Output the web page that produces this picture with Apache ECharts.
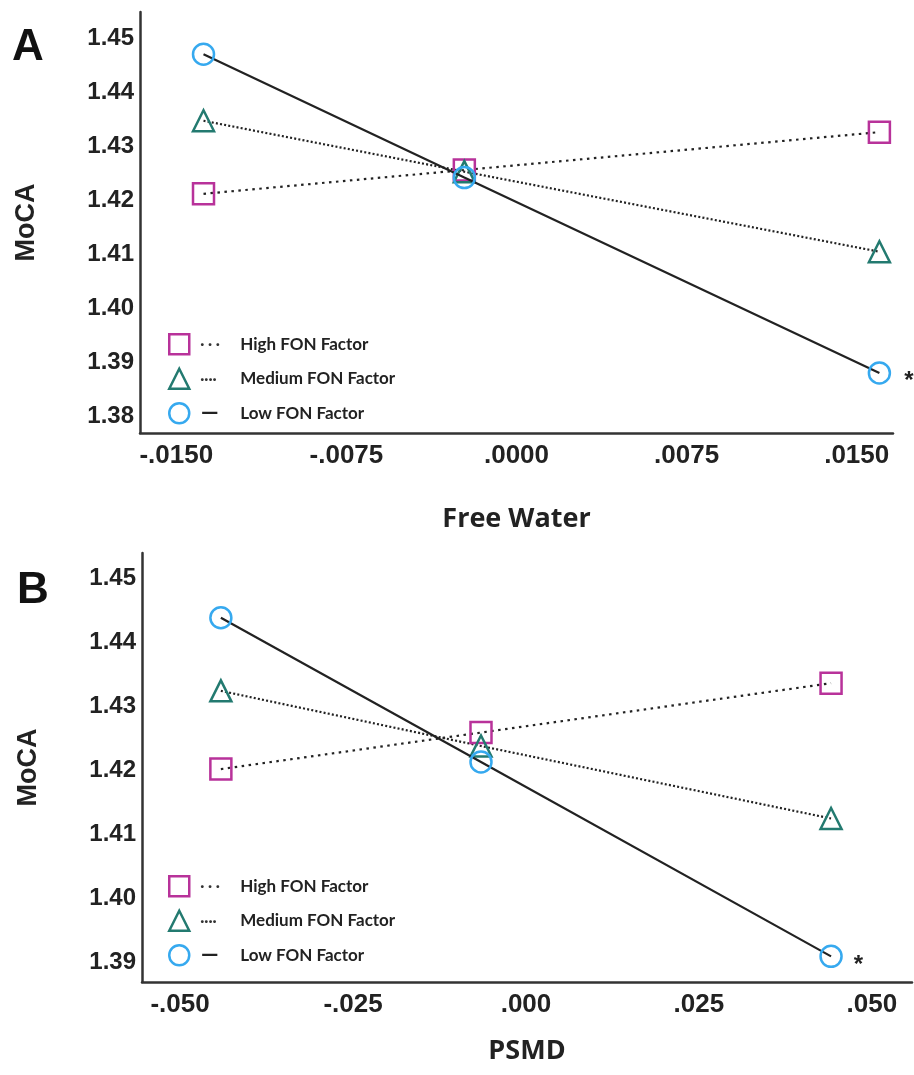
<!DOCTYPE html>
<html>
<head>
<meta charset="utf-8">
<script src="https://cdn.jsdelivr.net/npm/echarts@6/dist/echarts.min.js"></script>
<style>
  html, body { margin: 0; padding: 0; background: #fff; }
  #chart { width: 914px; height: 1075px; }
</style>
</head>
<body>
<div id="chart"></div>
<script>
// panel A: Free Water
const fwX = [-0.0138, -0.0023, 0.0160];
const fwHigh = [1.4212, 1.4256, 1.4326];
const fwMedium = [1.4347, 1.4253, 1.4105];
const fwLow = [1.4470, 1.4242, 1.3881];
const fwXTicks = [-0.015, -0.0075, 0, 0.0075, 0.015];
const fwYTicks = [1.38, 1.39, 1.40, 1.41, 1.42, 1.43, 1.44, 1.45];

// panel B: PSMD
const psmdX = [-0.0441, -0.0065, 0.0441];
const psmdHigh = [1.4202, 1.4259, 1.4336];
const psmdMedium = [1.4324, 1.4238, 1.4125];
const psmdLow = [1.4438, 1.4213, 1.3910];
const psmdXTicks = [-0.05, -0.025, 0, 0.025, 0.05];
const psmdYTicks = [1.39, 1.40, 1.41, 1.42, 1.43, 1.44, 1.45];

const groups = ['High FON Factor', 'Medium FON Factor', 'Low FON Factor'];
const sigMark = '*';

const chart = echarts.init(document.getElementById('chart'));

const groupStyle = {
    'High FON Factor': { symbol: 'rect', color: '#b8329a', line: [2.5, 4.5], glyph: '{ln|· · ·}' },
    'Medium FON Factor': { symbol: 'triangle', color: '#237a70', line: [2, 2.2], glyph: '{ln|····}' },
    'Low FON Factor': { symbol: 'circle', color: '#36a9ef', line: 'solid', glyph: '{lns|—}' }
};

function fmtX(digits) {
    return v => (v < 0 ? '-' : '') + Math.abs(v).toFixed(digits).replace(/^0/, '');
}

function makeSeries(name, xs, ys, idx) {
    const st = groupStyle[name];
    const data = xs.map((x, i) => [x, ys[i]]);
    if (name === 'Low FON Factor') {
        // significance mark on the last point
        data[data.length - 1] = {
            value: data[data.length - 1],
            label: {
                show: true, formatter: sigMark, position: 'right', distance: 7,
                fontSize: 24, fontWeight: 'bold', color: '#222', fontFamily: 'Liberation Sans',
                offset: idx === 0 ? [6, 8] : [4, 9]
            }
        };
    }
    return {
        name: name,
        type: 'line',
        xAxisIndex: idx,
        yAxisIndex: idx,
        data: data,
        symbol: st.symbol,
        symbolSize: 21,
        z: name === 'Low FON Factor' ? 3 : 2,
        lineStyle: { color: '#222', width: 2.2, type: st.line },
        itemStyle: { color: 'rgba(255,255,255,0)', borderColor: st.color, borderWidth: 2.5 }
    };
}

function makeLegend(left, top) {
    return {
        orient: 'vertical',
        left: left,
        top: top,
        padding: 0,
        itemWidth: 20,
        itemHeight: 20,
        itemGap: 12,
        selectedMode: false,
        data: groups.map(g => ({
            name: g,
            icon: groupStyle[g].symbol,
            itemStyle: { color: 'rgba(255,255,255,0)', borderColor: groupStyle[g].color, borderWidth: 2.5 }
        })),
        formatter: name => groupStyle[name].glyph + name,
        textStyle: {
            fontFamily: 'Lato', fontWeight: 'bold', fontSize: 17, color: '#222',
            rich: {
                ln: { width: 40, padding: [0, 0, 0, 6], fontSize: 15, fontWeight: 'bold', color: '#333', fontFamily: 'Lato' },
                lns: { width: 39, padding: [0, 0, 0, 7], fontSize: 17, fontWeight: 'bold', color: '#222', fontFamily: 'DejaVu Sans' }
            }
        }
    };
}

const axisLine = { show: true, onZero: false, lineStyle: { color: '#333', width: 2.5 } };

function xAxis(idx, min, max, ticks, digits, title, gap) {
    return {
        type: 'value', gridIndex: idx, min: min, max: max,
        axisLine: axisLine, axisTick: { show: false }, splitLine: { show: false },
        axisLabel: {
            customValues: ticks, formatter: fmtX(digits), margin: 10,
            fontFamily: 'Liberation Sans', fontWeight: 'bold', fontSize: 26, color: '#222'
        },
        name: title, nameLocation: 'middle', nameGap: gap,
        nameTextStyle: { fontFamily: 'Open Sans', fontWeight: 'bold', fontSize: 27, color: '#222' }
    };
}

function yAxis(idx, min, max, ticks) {
    return {
        type: 'value', gridIndex: idx, min: min, max: max,
        axisLine: axisLine, axisTick: { show: false }, splitLine: { show: false },
        axisLabel: {
            customValues: ticks, formatter: v => v.toFixed(2), margin: 6,
            fontFamily: 'Liberation Sans', fontWeight: 'bold', fontSize: 24, color: '#222'
        },
        name: 'MoCA', nameLocation: 'middle', nameGap: 100, nameRotate: 90,
        nameTextStyle: { fontFamily: 'Liberation Sans', fontWeight: 'bold', fontSize: 27, color: '#222' }
    };
}

const option = {
    animation: false,
    backgroundColor: '#fff',
    grid: [
        { left: 140, top: 12, width: 753, height: 421 },
        { left: 142, top: 553, width: 770, height: 429 }
    ],
    xAxis: [
        xAxis(0, -0.0166, 0.0166, fwXTicks, 4, 'Free Water', 73),
        xAxis(1, -0.0555, 0.0558, psmdXTicks, 3, 'PSMD', 56)
    ],
    yAxis: [
        yAxis(0, 1.3770, 1.4548, fwYTicks),
        yAxis(1, 1.3870, 1.4539, psmdYTicks)
    ],
    legend: [makeLegend(168, 333), makeLegend(168, 875)],
    graphic: [
        { type: 'text', left: 12, top: 26, style: { text: 'A', fontFamily: 'Liberation Sans', fontWeight: 'bold', fontSize: 44, fill: '#111' } },
        { type: 'text', left: 17, top: 569, style: { text: 'B', fontFamily: 'Liberation Sans', fontWeight: 'bold', fontSize: 44, fill: '#111' } }
    ],
    series: [
        makeSeries('High FON Factor', fwX, fwHigh, 0),
        makeSeries('Medium FON Factor', fwX, fwMedium, 0),
        makeSeries('Low FON Factor', fwX, fwLow, 0),
        makeSeries('High FON Factor', psmdX, psmdHigh, 1),
        makeSeries('Medium FON Factor', psmdX, psmdMedium, 1),
        makeSeries('Low FON Factor', psmdX, psmdLow, 1)
    ]
};

chart.setOption(option);
</script>
</body>
</html>
